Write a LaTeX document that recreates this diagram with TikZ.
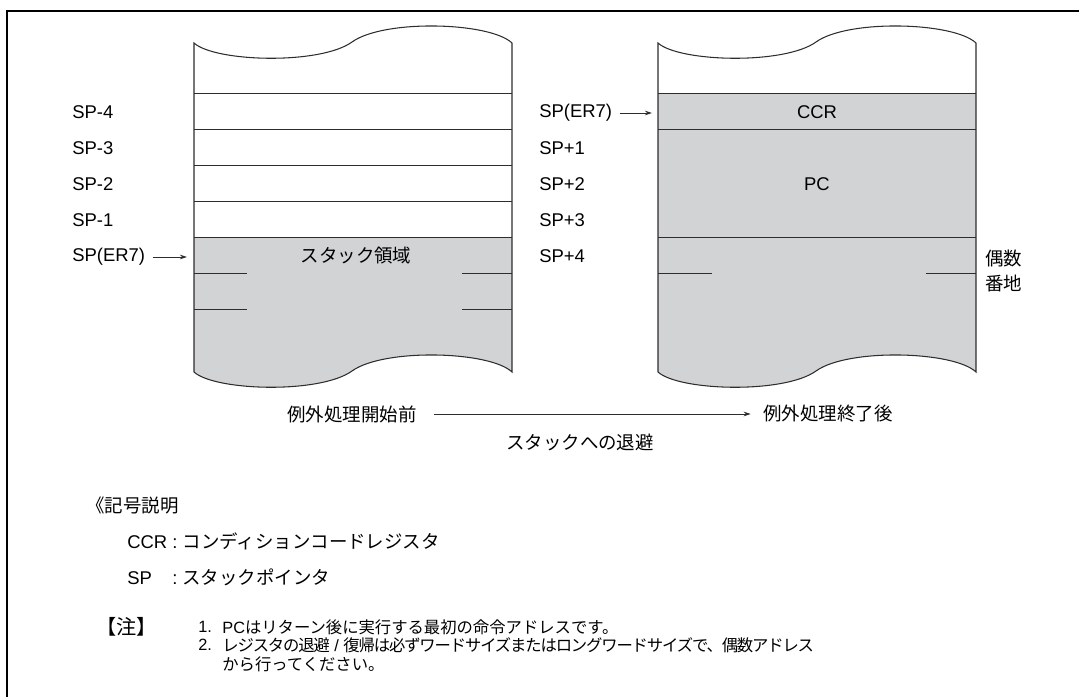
\documentclass[tikz,border=0pt]{standalone}
\usepackage{fontspec}
\setmainfont{Liberation Sans}
\newfontfamily\jp{Noto Sans CJK JP}
\newfontfamily\jpnarrow[LetterSpace=-7]{Noto Sans CJK JP}
\usetikzlibrary{arrows.meta}
\definecolor{stackgray}{RGB}{210,211,213}
\definecolor{inkgray}  {RGB}{45,45,45}
\newcommand{\lblfont}{\fontsize{10.5pt}{12.6pt}\selectfont}
\newcommand{\notefont}{\fontsize{9.3pt}{11pt}\selectfont}
% outline of one stack column (left edge at x=0, width 318)
\newcommand{\stackoutline}{(0,43) .. controls (21,62) and (126,65) .. (158,42)
  .. controls (190,19) and (296,22) .. (318,43) -- (318,372)
  .. controls (296,351) and (190,348) .. (158,371)
  .. controls (126,394) and (21,391) .. (0,372) -- cycle}
\tikzset{
  lbl/.style     ={anchor=west, inner sep=0pt, font=\lblfont},
  cellbl/.style  ={inner sep=0pt, font=\lblfont},
  notetxt/.style ={anchor=west, inner sep=0pt, font=\notefont},
  stackline/.style={draw=inkgray, line width=0.6pt},
  rowline/.style ={draw=inkgray, line width=0.55pt},
  ptrarr/.style  ={-{Stealth[length=4pt,width=2.6pt]}, draw=inkgray, line width=0.45pt},
}

\begin{document}
\begin{tikzpicture}[x=0.02cm, y=-0.02cm]
\useasboundingbox (0,0) rectangle (1079,697);

%% ─── Frame ───────────────────────────────────────────────────────────────────
\draw[line width=1pt] (7,697) -- (7,11) -- (1079,11);

%% ─── Stack before exception ──────────────────────────────────────────────────
\begin{scope}[shift={(194,0)}]
  \begin{scope}
    \clip \stackoutline;
    \fill[stackgray] (0,237) rectangle (318,400);
  \end{scope}
  \foreach \y in {93,129,165,201,237}{
    \draw[rowline] (0,\y) -- (318,\y);
  }
  \foreach \y in {273,309}{
    \draw[rowline] (0,\y) -- (53,\y);
    \draw[rowline] (268,\y) -- (318,\y);
  }
  \draw[stackline] \stackoutline;
  \coordinate (Ledge) at (-7,0);
\end{scope}

%% ─── Stack after exception ───────────────────────────────────────────────────
\begin{scope}[shift={(658,0)}]
  \begin{scope}
    \clip \stackoutline;
    \fill[stackgray] (0,93) rectangle (318,400);
  \end{scope}
  \foreach \y in {93,129,237}{
    \draw[rowline] (0,\y) -- (318,\y);
  }
  \draw[rowline] (0,273) -- (54,273);
  \draw[rowline] (268,273) -- (318,273);
  \draw[stackline] \stackoutline;
  \coordinate (Redge) at (-6,0);
\end{scope}

%% ─── Address labels ──────────────────────────────────────────────────────────
\foreach \t/\y in {4/112, 3/148, 2/184, 1/220}{
  \node[lbl] (Lsp\t) at (72, \y) {SP-\t};
}
\node[lbl] (Lsp0) at (72, 257) {SP(ER7)};
\draw[ptrarr, shorten <=4pt] (Lsp0.east) -- (Lsp0.east -| Ledge);

\node[lbl] (Rsp0) at (539, 113) {SP(ER7)};
\draw[ptrarr, shorten <=4pt] (Rsp0.east) -- (Rsp0.east -| Redge);
\foreach \t/\y in {1/148, 2/184, 3/220, 4/256}{
  \node[lbl] (Rsp\t) at (539, \y) {SP+\t};
}

%% ─── Cell texts ──────────────────────────────────────────────────────────────
\node[cellbl] (area) at (356, 256) {\jp スタック領域};
\node[cellbl] (ccr)  at (817, 112) {CCR};
\node[cellbl] (pc)   at (817, 184) {PC};
\node[lbl]    (even1) at (985, 259) {\jp 偶数};
\node[lbl]    (even2) at (985, 283) {\jp 番地};

%% ─── Transition ──────────────────────────────────────────────────────────────
\node[lbl] (before) at (287, 414) {\jp 例外処理開始前};
\node[lbl] (after)  at (763, 414) {\jp 例外処理終了後};
\draw[ptrarr, shorten <=10pt, shorten >=7pt] (before.east) -- (after.west);
\node[cellbl] (push) at (580, 442) {\jp スタックへの退避};

%% ─── Legend ──────────────────────────────────────────────────────────────────
\node[lbl] (legend) at (86, 505) {\jp 《記号説明};
\node[lbl] (legccr) at (127, 541) {CCR : {\jp コンディションコードレジスタ}};
\node[lbl] (legsp)  at (127, 577) {SP\hspace{1.1em}: {\jp スタックポインタ}};

%% ─── Notes ───────────────────────────────────────────────────────────────────
\node[lbl, font=\fontsize{11.5pt}{13pt}\selectfont] (nhead) at (96, 627) {\jp 【注】};
\node[notetxt] (n1num) at (198, 627) {1.};
\node[notetxt] (n1)    at (222, 627) {PC{\jp はリターン後に実行する最初の命令アドレスです。}};
\node[notetxt] (n2num) at (198, 645) {2.};
\node[notetxt] (n2)    at (222, 645) {{\jpnarrow レジスタの退避} / {\jpnarrow 復帰は必ずワードサイズまたはロングワードサイズで、偶数アドレス}};
\node[notetxt] (n3)    at (222, 664) {\jp から行ってください。};

\end{tikzpicture}
\end{document}
